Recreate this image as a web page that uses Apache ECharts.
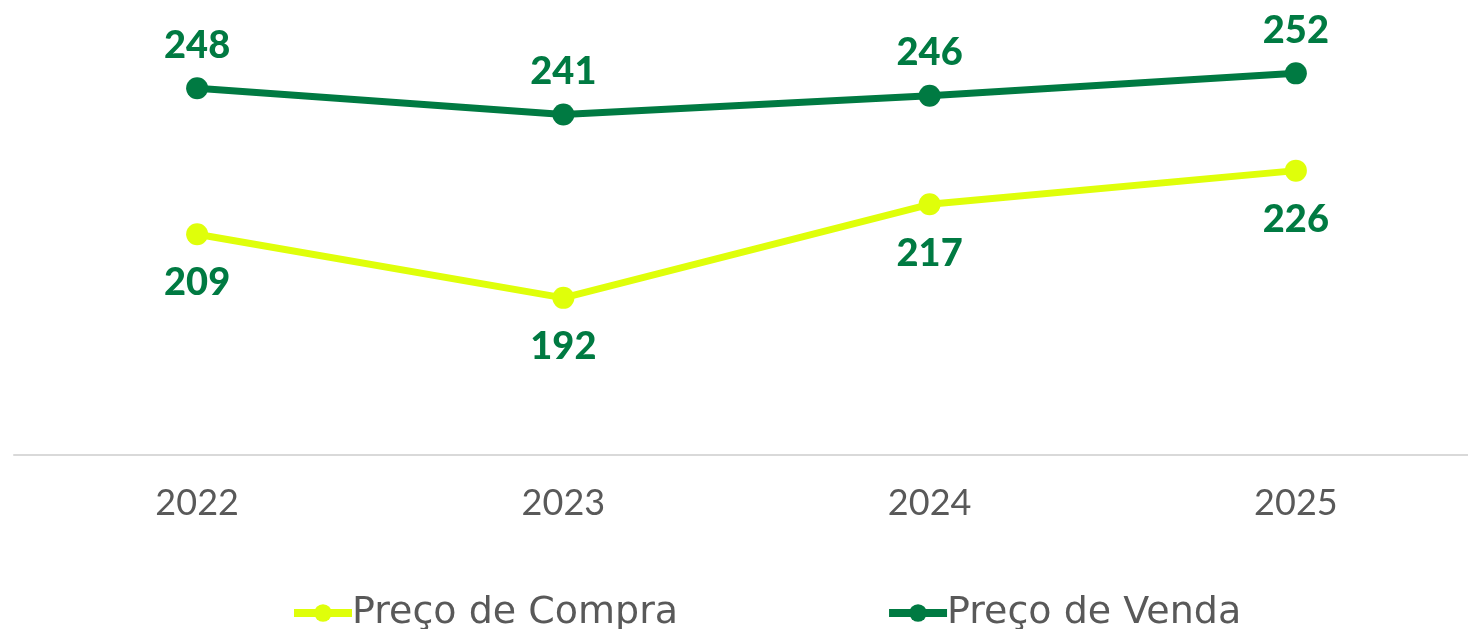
<!DOCTYPE html>
<html>
<head>
<meta charset="utf-8">
<script src="https://cdn.jsdelivr.net/npm/echarts@6/dist/echarts.min.js"></script>
<style>
  html, body { margin: 0; padding: 0; background: #ffffff; }
  #chart { width: 1468px; height: 629px; }
</style>
</head>
<body>
<div id="chart"></div>
<script>
// Years on the category axis
const years = ['2022', '2023', '2024', '2025'];
// Purchase and sale prices per year
const precoCompra = [209, 192, 217, 226];
const precoVenda = [248, 241, 246, 252];

const lightGreen = '#DFFF0A';
const darkGreen = '#007A42';
const grey = '#595959';

const chart = echarts.init(document.getElementById('chart'), null, { renderer: 'canvas' });

const labelStyle = {
  show: true,
  color: darkGreen,
  fontFamily: 'Lato',
  fontWeight: 900,
  fontSize: 38
};

chart.setOption({
  animation: false,
  backgroundColor: '#ffffff',
  grid: { left: 14, width: 1465, top: 6, bottom: 174, containLabel: false, outerBoundsMode: 'none' },
  xAxis: {
    type: 'category',
    data: years,
    boundaryGap: true,
    axisLine: { show: true, lineStyle: { color: '#D9D9D9', width: 2 } },
    axisTick: { show: false },
    axisLabel: { color: grey, fontFamily: 'Lato', fontSize: 36, margin: 30 }
  },
  yAxis: {
    type: 'value',
    min: 150,
    max: 270,
    show: false,
    splitLine: { show: false }
  },
  legend: {
    top: 594,
    left: 290,
    padding: 0,
    itemGap: 207,
    itemWidth: 58,
    itemHeight: 22,
    lineStyle: { width: 8 },
    textStyle: { color: grey, fontFamily: 'DejaVu Sans', fontSize: 38, padding: [0, 0, 0, -5] },
    data: ['Preço de Compra', 'Preço de Venda']
  },
  series: [
    {
      name: 'Preço de Compra',
      type: 'line',
      data: precoCompra,
      symbol: 'circle',
      symbolSize: 22,
      lineStyle: { color: lightGreen, width: 7 },
      itemStyle: { color: lightGreen },
      label: Object.assign({}, labelStyle, { position: 'bottom', distance: 19 })
    },
    {
      name: 'Preço de Venda',
      type: 'line',
      data: precoVenda,
      symbol: 'circle',
      symbolSize: 22,
      lineStyle: { color: darkGreen, width: 7 },
      itemStyle: { color: darkGreen },
      label: Object.assign({}, labelStyle, { position: 'top', distance: 13 })
    }
  ]
});
</script>
</body>
</html>
